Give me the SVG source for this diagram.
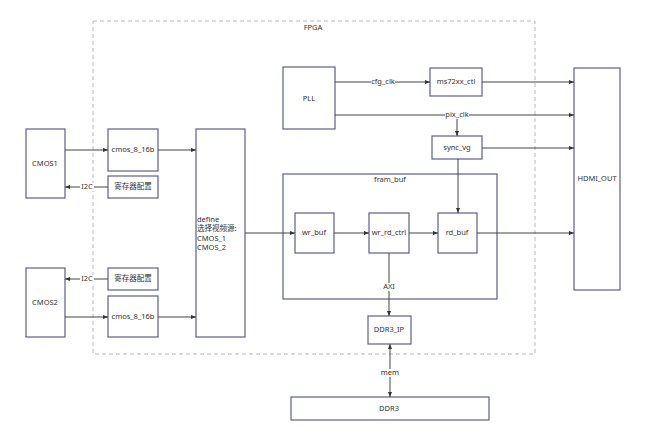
<svg xmlns="http://www.w3.org/2000/svg" width="649" height="441" viewBox="0 0 649 441">
<style>
.n{fill:#fff;stroke:#5b6088;stroke-width:1.2}
.t{font-family:"Noto Sans","Noto Sans CJK SC",sans-serif;font-size:7.5px;fill:#333;text-anchor:middle;dominant-baseline:middle}
.l{stroke:#444;stroke-width:1;fill:none}
.lb{font-family:"Noto Sans","Noto Sans CJK SC",sans-serif;font-size:7.5px;fill:#333;text-anchor:middle;dominant-baseline:middle}
</style>
<defs>
<marker id="a" viewBox="0 0 10 10" refX="10" refY="5" markerWidth="5" markerHeight="5" orient="auto-start-reverse"><path d="M0,1 L10,5 L0,9 z" fill="#333"/></marker>
</defs>
<rect width="649" height="441" fill="#fff"/>
<g id="fpga">
<rect x="93" y="21" width="442" height="333" fill="none" stroke="#b8b8bc" stroke-width="1" stroke-dasharray="4,3"/>
<text class="t" x="313" y="28">FPGA</text>
</g>
<g id="fram_buf"><rect class="n" x="283" y="174" width="214" height="125"/><text class="t" x="390" y="180">fram_buf</text></g>
<g id="cmos1"><rect class="n" x="26" y="129" width="39" height="69"/><text class="t" x="45" y="164">CMOS1</text></g>
<g id="cmos2"><rect class="n" x="26" y="268" width="39" height="69"/><text class="t" x="45" y="303">CMOS2</text></g>
<g id="c816a"><rect class="n" x="108" y="129" width="50" height="42"/><text class="t" x="133" y="150">cmos_8_16b</text></g>
<g id="reg1"><rect class="n" x="108" y="176" width="50" height="22"/><text class="t" x="133" y="187">寄存器配置</text></g>
<g id="reg2"><rect class="n" x="108" y="268" width="50" height="22"/><text class="t" x="133" y="279">寄存器配置</text></g>
<g id="c816b"><rect class="n" x="108" y="296" width="50" height="41"/><text class="t" x="133" y="317">cmos_8_16b</text></g>
<g id="define"><rect class="n" x="196" y="129" width="49" height="208"/>
<text class="t" style="text-anchor:start" x="197" y="220">define</text>
<text class="t" style="text-anchor:start" x="197" y="229">选择视频源:</text>
<text class="t" style="text-anchor:start" x="197" y="239">CMOS_1</text>
<text class="t" style="text-anchor:start" x="197" y="248">CMOS_2</text></g>
<g id="pll"><rect class="n" x="283" y="67" width="52" height="62"/><text class="t" x="309" y="99">PLL</text></g>
<g id="ms72"><rect class="n" x="430" y="68" width="52" height="28"/><text class="t" x="456" y="82">ms72xx_ctl</text></g>
<g id="sync"><rect class="n" x="432" y="136" width="50" height="23"/><text class="t" x="457" y="148">sync_vg</text></g>
<g id="hdmi"><rect class="n" x="574" y="68" width="46" height="222"/><text class="t" x="597" y="179">HDMI_OUT</text></g>
<g id="wr_buf"><rect class="n" x="295" y="213" width="39" height="40"/><text class="t" x="314" y="233">wr_buf</text></g>
<g id="wr_rd_ctrl"><rect class="n" x="369" y="213" width="40" height="40"/><text class="t" x="389" y="233">wr_rd_ctrl</text></g>
<g id="rd_buf"><rect class="n" x="438" y="213" width="39" height="40"/><text class="t" x="457" y="233">rd_buf</text></g>
<g id="ddr3ip"><rect class="n" x="368" y="316" width="43" height="28"/><text class="t" x="389" y="330">DDR3_IP</text></g>
<g id="ddr3"><rect class="n" x="291" y="397" width="198" height="23"/><text class="t" x="389" y="409">DDR3</text></g>
<g id="edges">
<line class="l" x1="65" y1="150" x2="108" y2="150" marker-end="url(#a)"/>
<line class="l" x1="158" y1="150" x2="196" y2="150" marker-end="url(#a)"/>
<line class="l" x1="108" y1="187" x2="65" y2="187" marker-end="url(#a)"/>
<rect x="80" y="183" width="14" height="8" fill="#fff"/><text class="lb" x="87" y="187">I2C</text>
<line class="l" x1="108" y1="279" x2="65" y2="279" marker-end="url(#a)"/>
<rect x="80" y="275" width="14" height="8" fill="#fff"/><text class="lb" x="87" y="279">I2C</text>
<line class="l" x1="65" y1="317" x2="108" y2="317" marker-end="url(#a)"/>
<line class="l" x1="158" y1="317" x2="196" y2="317" marker-end="url(#a)"/>
<line class="l" x1="245" y1="233" x2="295" y2="233" marker-end="url(#a)"/>
<line class="l" x1="334" y1="233" x2="369" y2="233" marker-end="url(#a)"/>
<line class="l" x1="409" y1="233" x2="438" y2="233" marker-end="url(#a)"/>
<line class="l" x1="477" y1="233" x2="574" y2="233" marker-end="url(#a)"/>
<line class="l" x1="335" y1="82" x2="430" y2="82" marker-end="url(#a)"/>
<rect x="371" y="78" width="24" height="8" fill="#fff"/><text class="lb" x="383" y="82">cfg_clk</text>
<line class="l" x1="482" y1="82" x2="574" y2="82" marker-end="url(#a)"/>
<line class="l" x1="335" y1="115" x2="574" y2="115" marker-end="url(#a)"/>
<line class="l" x1="457" y1="115" x2="457" y2="136" marker-end="url(#a)"/>
<rect x="445" y="111" width="24" height="8" fill="#fff"/><text class="lb" x="457" y="115">pix_clk</text>
<line class="l" x1="482" y1="148" x2="574" y2="148" marker-end="url(#a)"/>
<line class="l" x1="458" y1="159" x2="458" y2="213" marker-end="url(#a)"/>
<line class="l" x1="389" y1="253" x2="389" y2="316" marker-end="url(#a)"/>
<rect x="382" y="283" width="14" height="8" fill="#fff"/><text class="lb" x="389" y="287">AXI</text>
<line class="l" x1="390" y1="344" x2="390" y2="397" marker-start="url(#a)" marker-end="url(#a)"/>
<rect x="380" y="369" width="20" height="8" fill="#fff"/><text class="lb" x="390" y="373">mem</text>
</g>
</svg>
